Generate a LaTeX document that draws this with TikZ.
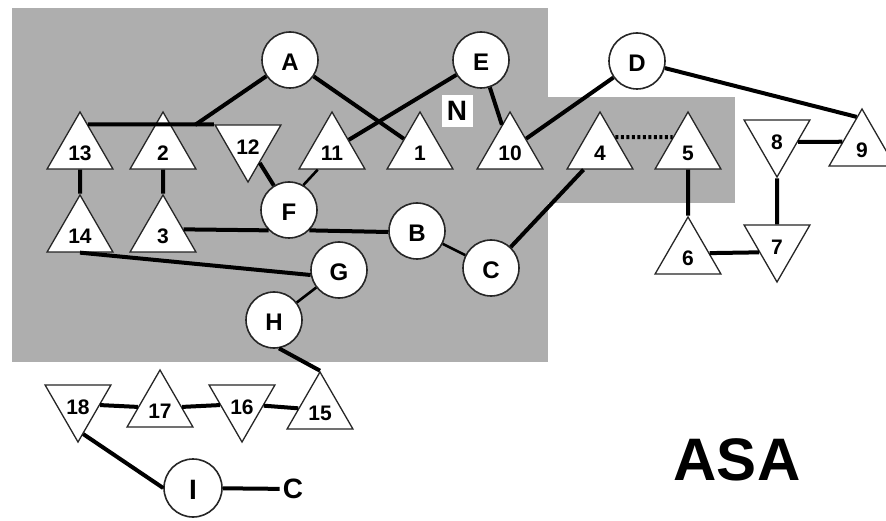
\documentclass[tikz,border=0pt]{standalone}
\usepackage{fontspec}
\setmainfont{Liberation Sans}
\usetikzlibrary{shapes.geometric}
\definecolor{bgray}{RGB}{174,174,174}
\begin{document}
\begin{tikzpicture}[x=1pt,y=-1pt,
  circ/.style={circle, draw=black!85, line width=1.6pt, fill=white, minimum size=56pt, inner sep=0pt, font=\fontsize{24}{24}\selectfont\bfseries, text height=21pt},
  tup/.style={regular polygon, regular polygon sides=3, draw=black!85, line width=1.3pt, fill=white, minimum size=76pt, inner sep=0pt, font=\fontsize{21}{21}\selectfont\bfseries, text height=21pt},
  tdn/.style={tup, shape border rotate=180},
  edge/.style={line width=4pt, black},
  thinedge/.style={line width=2.6pt, black}]
\useasboundingbox (0,0) rectangle (886,521);
\fill[white] (0,0) rectangle (886,521);
\fill[bgray] (12,8) rectangle (548,362);
\fill[bgray] (548,97) rectangle (735,203);

% circles
\node[circ] (A) at (290,60) {A};
\node[circ] (E) at (481,60) {E};
\node[circ] (D) at (637,61) {D};
\node[circ] (F) at (289,210) {F};
\node[circ] (B) at (417,231) {B};
\node[circ] (C) at (491,268) {C};
\node[circ] (G) at (339,270) {G};
\node[circ] (H) at (274,320) {H};
\node[circ, minimum size=58pt, font=\fontsize{28}{28}\selectfont\bfseries, text height=23pt] (I) at (193,488) {I};

% triangles
\node[tup] (t13) at (80,150) {13};
\node[tup] (t2) at (163,150) {2};
\node[tdn] (t12) at (248,144) {12};
\node[tup] (t14) at (80,233) {14};
\node[tup] (t3) at (163,233) {3};
\node[tup] (t11) at (332,150) {11};
\node[tup] (t1) at (420,150) {1};
\node[tup] (t10) at (510,150) {10};
\node[tup] (t4) at (600,150) {4};
\node[tup] (t5) at (688,150) {5};
\node[tdn] (t8) at (777,139) {8};
\node[tup] (t9) at (862,147) {9};
\node[tup] (t6) at (688,255) {6};
\node[tdn] (t7) at (777,244) {7};
\node[tdn] (t18) at (78,404) {18};
\node[tup] (t17) at (160,408) {17};
\node[tdn] (t16) at (242,404) {16};
\node[tup] (t15) at (320,410) {15};

% labels
\node[fill=white, inner sep=0pt, minimum width=31pt, minimum height=32pt, font=\fontsize{28}{28}\selectfont\bfseries] (N) at (457,111) {N};
\node[inner sep=3pt, font=\fontsize{28}{28}\selectfont\bfseries] (Cl) at (293,489) {C};
\node[inner sep=0pt, font=\fontsize{60}{60}\selectfont\bfseries] (asa) at (737,460) {ASA};

% connectors
\coordinate (j2) at (195,125);
\draw[edge] (t13.73) -- (t12.150);
\draw[edge] (A) -- (j2);
\draw[edge] (t13) -- (t14);
\draw[edge] (t2) -- (t3);
\draw[edge] (t12) -- (F);
\draw[edge] (t3.10) -- (F.225);
\draw[edge] (F.-45) -- (B.182);
\draw[thinedge] (F.60) -- (t11.234);
\draw[edge] (E) -- (t11);
\draw[edge] (A) -- (t1);
\draw[edge] (E) -- (t10);
\draw[edge] (D) -- (t10);
\draw[edge] (D) -- (t9.100);
\draw[edge, dash pattern=on 3pt off 2.5pt] (t4.40) -- (t5.140);
\draw[edge] (C) -- (t4.230);
\draw[thinedge] (B) -- (C);
\draw[edge] (t5) -- (t6);
\draw[edge] (t6.5) -- (t7.205);
\draw[edge] (t8) -- (t7);
\draw[edge] (t8.-8) -- (t9.165);
\draw[edge] (t14.-90) -- (G.190);
\draw[thinedge] (G) -- (H);
\draw[edge] (H.-80) -- (t15.90);
\draw[edge] (t18) -- (t17);
\draw[edge] (t17) -- (t16);
\draw[edge] (t16) -- (t15);
\draw[edge] (t18.-80) -- (I.180);
\draw[edge] (I) -- (Cl);
\end{tikzpicture}
\end{document}
